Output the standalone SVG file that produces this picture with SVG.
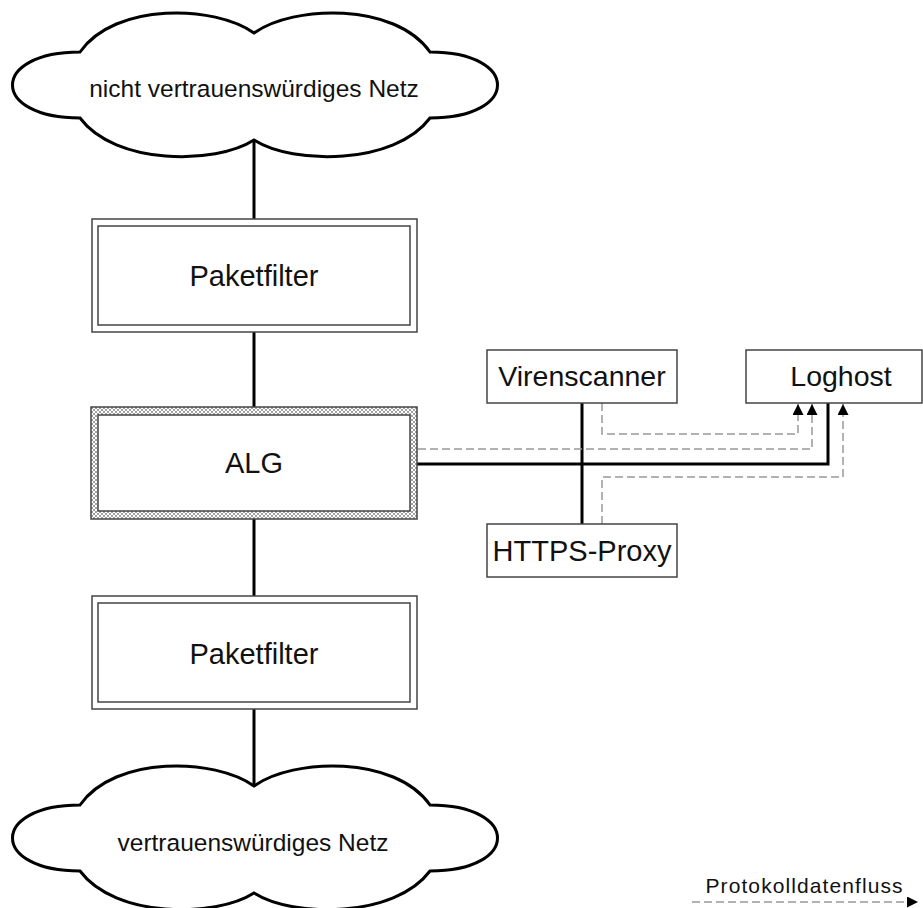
<svg xmlns="http://www.w3.org/2000/svg" width="923" height="908" viewBox="0 0 923 908">
<style>
.cloud{fill:#fff;stroke:#000;stroke-width:3}
.box{fill:#fff;stroke:#444;stroke-width:1.5}
.thick{fill:none;stroke:#000;stroke-width:3}
.dash{fill:none;stroke:#999;stroke-width:1.5;stroke-dasharray:8 4}
.t{font-family:"Liberation Sans",Arial,sans-serif;fill:#111;text-anchor:middle}
</style>
<defs>
<pattern id="hatch" width="4" height="4" patternUnits="userSpaceOnUse">
<rect width="4" height="4" fill="#fff"/>
<path d="M0,0 L4,4 M0,4 L4,0" stroke="#888" stroke-width="0.8"/>
</pattern>
<marker id="arr" viewBox="0 0 10 10" refX="10" refY="5" markerWidth="11" markerHeight="11" markerUnits="userSpaceOnUse" orient="auto">
<path d="M0,0 L10,5 L0,10 Z" fill="#000"/>
</marker>
<path id="cloudShape" d="M254,33 C215,5 115,2 80,52 C-10,52 -10,118 80,118 C115,165 215,165 254,140 C293,165 395,165 430,118 C520,118 520,52 430,52 C395,2 293,5 254,33 Z"/>
</defs>

<g id="connectors">
<path class="thick" d="M254,140 V219"/>
<path class="thick" d="M254,332 V408"/>
<path class="thick" d="M254,519 V596"/>
<path class="thick" d="M254,709 V785"/>
<path class="thick" d="M417,464 H828 V403"/>
<path class="thick" d="M582,403 V524"/>
<path class="dash" d="M602,403 V434 H798 V404" marker-end="url(#arr)"/>
<path class="dash" d="M418,449 H812 V404" marker-end="url(#arr)"/>
<path class="dash" d="M602,524 V477 H843 V404" marker-end="url(#arr)"/>
</g>

<g id="cloud-untrusted">
<use href="#cloudShape" class="cloud"/>
<text class="t" x="254" y="97" font-size="24.5">nicht vertrauenswürdiges Netz</text>
</g>

<g id="paketfilter-1">
<rect class="box" x="92" y="219" width="325" height="113"/>
<rect class="box" x="98" y="226" width="312" height="99"/>
<text class="t" x="254" y="286" font-size="29">Paketfilter</text>
</g>

<g id="alg">
<path d="M91,407 H417 V519 H91 Z M98,415 V511 H410 V415 Z" fill="url(#hatch)" fill-rule="evenodd" stroke="#444" stroke-width="1.5"/>
<text class="t" x="254" y="473" font-size="29">ALG</text>
</g>

<g id="paketfilter-2">
<rect class="box" x="92" y="596" width="325" height="113"/>
<rect class="box" x="98" y="603" width="312" height="99"/>
<text class="t" x="254" y="664" font-size="29">Paketfilter</text>
</g>

<g id="cloud-trusted">
<use href="#cloudShape" class="cloud" transform="translate(0,753)"/>
<text class="t" x="253" y="851" font-size="24.5">vertrauenswürdiges Netz</text>
</g>

<g id="virenscanner">
<rect class="box" x="487" y="350" width="190" height="53"/>
<text class="t" x="582" y="386" font-size="28.5">Virenscanner</text>
</g>

<g id="loghost">
<rect class="box" x="746" y="350" width="176" height="53"/>
<text class="t" x="841" y="386" font-size="28.5">Loghost</text>
</g>

<g id="https-proxy">
<rect class="box" x="487" y="524" width="190" height="53"/>
<text class="t" x="582" y="561" font-size="29">HTTPS-Proxy</text>
</g>

<g id="legend">
<text class="t" x="804" y="893" font-size="21" textLength="197" lengthAdjust="spacing">Protokolldatenfluss</text>
<path class="dash" d="M692,902 H918" marker-end="url(#arr)"/>
</g>
</svg>
